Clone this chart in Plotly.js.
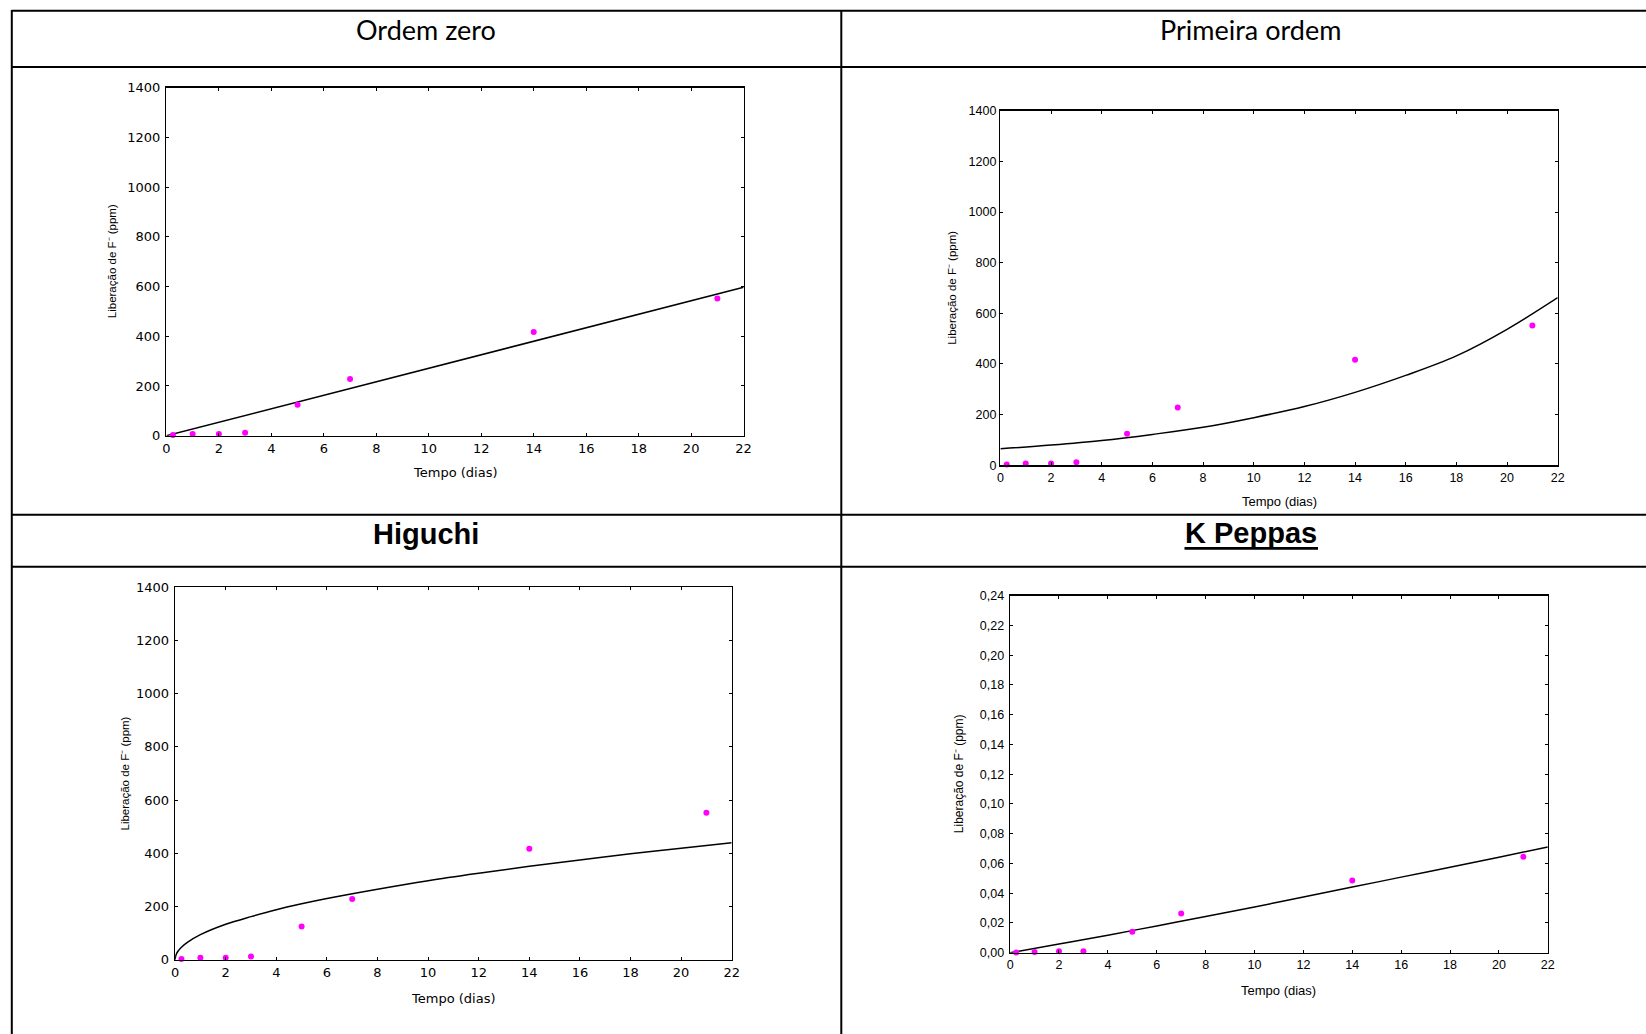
<!DOCTYPE html>
<html>
<head>
<meta charset="utf-8">
<script src="https://cdn.plot.ly/plotly-3.0.1.min.js"></script>
<style>html,body{margin:0;padding:0;background:#fff;overflow:hidden;}#chart{width:1646px;height:1034px;}</style>
</head>
<body>
<div id="chart"></div>
<script>
// ---- data ----
const panelTitles = ['Ordem zero', 'Primeira ordem', 'Higuchi', 'K Peppas'];
const xTitle = 'Tempo (dias)';
const yTitle = 'Liberação de F\u207B (ppm)';

const days = [0.25, 1, 2, 3, 5, 7, 14, 21];
const releasePpm = [3, 7, 7, 12, 125, 228, 417, 552];
const releasePeppas = [0.0002, 0.0004, 0.0009, 0.0009, 0.0141, 0.0264, 0.0486, 0.0645];

const fitZeroX = [0, 22];
const fitZeroY = [0, 597];

const fitFirstX = [0, 2, 4, 6, 8, 10, 12, 14, 16, 18, 20, 22];
const fitFirstY = [65, 80, 98, 122, 150, 188, 232, 288, 355, 432, 537, 662];

const fitHiguchiX = [0, 0.02, 0.05, 0.1, 0.25, 0.5, 1, 2, 3, 4, 5, 6, 8, 10, 12, 14, 16, 18, 20, 22];
const fitHiguchiY = [0, 13, 21, 30, 47, 66, 94, 133, 162, 188, 210, 230, 265, 297, 325, 351, 375, 398, 419, 440];

const fitPeppasX = [0, 2, 4, 6, 8, 10, 12, 14, 16, 18, 20, 22];
const fitPeppasY = [0, 0.0058, 0.0118, 0.018, 0.0243, 0.0308, 0.0374, 0.0441, 0.0508, 0.0575, 0.0642, 0.071];

const xTickVals = [0, 2, 4, 6, 8, 10, 12, 14, 16, 18, 20, 22];
const yTickVals = [0, 200, 400, 600, 800, 1000, 1200, 1400];
const yTickValsPeppas = [0, 0.02, 0.04, 0.06, 0.08, 0.10, 0.12, 0.14, 0.16, 0.18, 0.20, 0.22, 0.24];

// ---- layout helpers ----
const W = 1646, H = 1034;
const PX = v => v / W;
const PY = v => 1 - v / H;

// plot boxes in pixels: [left, right, top, bottom]
const boxes = [
  [166.4, 743.6, 87.7, 435.7],
  [1000.4, 1557.7, 110.7, 465.3],
  [175.1, 731.7, 587.3, 959.7],
  [1010.1, 1547.8, 595.7, 952.7]
];
const leftFont = {family: 'DejaVu Sans', size: 13, color: '#000'};
const rightFont = {family: 'Liberation Sans, Arial', size: 12.5, color: '#000'};
const tickFonts = [leftFont, rightFont, leftFont, rightFont];

function xAxis(i) {
  const b = boxes[i];
  return {
    domain: [PX(b[0]), PX(b[1])], anchor: 'y' + (i ? i + 1 : ''),
    range: [0, 22], tickvals: xTickVals, ticks: 'inside', ticklen: 3, tickwidth: 1, tickcolor: '#000',
    showline: true, linecolor: '#000', linewidth: 1.5, mirror: 'ticks',
    showgrid: false, zeroline: false, tickfont: tickFonts[i], fixedrange: true
  };
}
function yAxis(i, ticks, range, fmt) {
  const b = boxes[i];
  const a = {
    domain: [PY(b[3]), PY(b[2])], anchor: 'x' + (i ? i + 1 : ''),
    range: range, tickvals: ticks, ticks: 'inside', ticklen: 3, tickwidth: 1, tickcolor: '#000',
    showline: true, linecolor: '#000', linewidth: 1.5, mirror: 'ticks', ticklabelstandoff: (i === 1 ? 0 : 2),
    showgrid: false, zeroline: false, tickfont: tickFonts[i], fixedrange: true
  };
  if (fmt) a.tickformat = fmt;
  return a;
}

const marker = {color: '#FF00FF', size: 6};
const lineStyle = {color: '#000', width: 1.5};

const traces = [
  {x: fitZeroX, y: fitZeroY, mode: 'lines', line: lineStyle, xaxis: 'x', yaxis: 'y', hoverinfo: 'skip'},
  {x: days, y: releasePpm, mode: 'markers', marker: marker, xaxis: 'x', yaxis: 'y', cliponaxis: false},
  {x: fitFirstX, y: fitFirstY, mode: 'lines', line: Object.assign({shape: 'spline'}, lineStyle), xaxis: 'x2', yaxis: 'y2', hoverinfo: 'skip'},
  {x: days, y: releasePpm, mode: 'markers', marker: marker, xaxis: 'x2', yaxis: 'y2', cliponaxis: false},
  {x: fitHiguchiX, y: fitHiguchiY, mode: 'lines', line: Object.assign({shape: 'spline'}, lineStyle), xaxis: 'x3', yaxis: 'y3', hoverinfo: 'skip'},
  {x: days, y: releasePpm, mode: 'markers', marker: marker, xaxis: 'x3', yaxis: 'y3', cliponaxis: false},
  {x: fitPeppasX, y: fitPeppasY, mode: 'lines', line: Object.assign({shape: 'spline'}, lineStyle), xaxis: 'x4', yaxis: 'y4', hoverinfo: 'skip'},
  {x: days, y: releasePeppas, mode: 'markers', marker: marker, xaxis: 'x4', yaxis: 'y4', cliponaxis: false}
];

// table grid lines
const border = {color: '#000', width: 2};
const shapes = [
  {type: 'line', xref: 'paper', yref: 'paper', x0: PX(11.5), x1: 1, y0: PY(10.8), y1: PY(10.8), line: border},
  {type: 'line', xref: 'paper', yref: 'paper', x0: PX(11.5), x1: 1, y0: PY(67), y1: PY(67), line: border},
  {type: 'line', xref: 'paper', yref: 'paper', x0: PX(11.5), x1: 1, y0: PY(514.8), y1: PY(514.8), line: border},
  {type: 'line', xref: 'paper', yref: 'paper', x0: PX(11.5), x1: 1, y0: PY(566.8), y1: PY(566.8), line: border},
  {type: 'line', xref: 'paper', yref: 'paper', x0: PX(11.8), x1: PX(11.8), y0: PY(10), y1: 0, line: border},
  {type: 'line', xref: 'paper', yref: 'paper', x0: PX(841.3), x1: PX(841.3), y0: PY(10), y1: 0, line: border},
  // underline of "K Peppas"
  {type: 'line', xref: 'paper', yref: 'paper', x0: PX(1184.5), x1: PX(1318), y0: PY(548.3), y1: PY(548.3), line: {color: '#000', width: 2.7}}
];

const titleFont = {family: 'Lato', size: 27, color: '#000'};
const boldFont = {family: 'Liberation Sans, Arial', size: 29, color: '#000'};
const annotations = [
  {text: panelTitles[0], x: PX(426.5), y: PY(30), font: titleFont},
  {text: panelTitles[1], x: PX(1250.7), y: PY(30), font: titleFont},
  {text: '<b>' + panelTitles[2] + '</b>', x: PX(426.3), y: PY(533.5), font: boldFont},
  {text: '<b>' + panelTitles[3] + '</b>', x: PX(1251.2), y: PY(532.5), font: boldFont}
];
const xTitleY = [472.5, 501.2, 998, 990];
const yTitleX = [111.5, 951.8, 124, 959];
const yTitleSize = [11.5, 11.5, 11.5, 12];
const xTitleFonts = [
  {family: 'DejaVu Sans', size: 13, color: '#000'},
  {family: 'Liberation Sans, Arial', size: 13, color: '#000'},
  {family: 'DejaVu Sans', size: 13, color: '#000'},
  {family: 'Liberation Sans, Arial', size: 13, color: '#000'}
];
boxes.forEach((b, i) => {
  annotations.push({text: xTitle, x: PX((b[0] + b[1]) / 2), y: PY(xTitleY[i]), font: xTitleFonts[i]});
  annotations.push({text: yTitle, x: PX(yTitleX[i]), y: PY((b[2] + b[3]) / 2), textangle: -90,
    font: {family: 'Liberation Sans, Arial', size: yTitleSize[i], color: '#000'}});
});
annotations.forEach(a => {
  a.xref = 'paper'; a.yref = 'paper'; a.showarrow = false; a.xanchor = 'center'; a.yanchor = 'middle';
});

const layout = {
  width: W, height: H,
  margin: {l: 0, r: 0, t: 0, b: 0, pad: 0},
  paper_bgcolor: '#fff', plot_bgcolor: '#fff',
  showlegend: false,
  separators: ', ',
  xaxis: xAxis(0), yaxis: yAxis(0, yTickVals, [0, 1400]),
  xaxis2: xAxis(1), yaxis2: yAxis(1, yTickVals, [0, 1400]),
  xaxis3: xAxis(2), yaxis3: yAxis(2, yTickVals, [0, 1400]),
  xaxis4: xAxis(3), yaxis4: yAxis(3, yTickValsPeppas, [0, 0.24], '.2f'),
  shapes: shapes,
  annotations: annotations
};

Plotly.newPlot('chart', traces, layout, {displayModeBar: false, staticPlot: true});
</script>
</body>
</html>
